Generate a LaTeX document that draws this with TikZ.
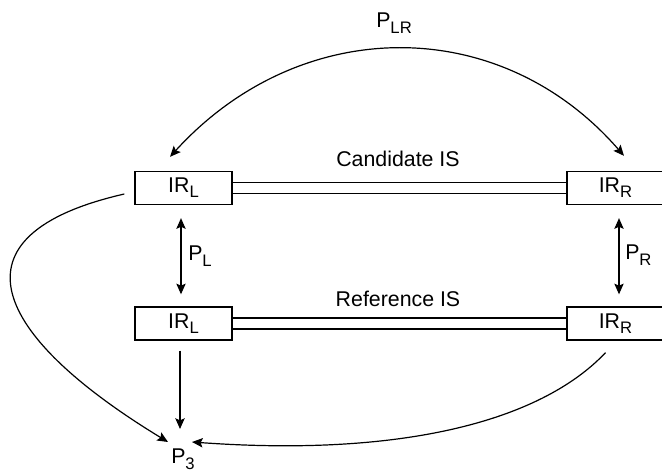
\documentclass[tikz,border=0pt]{standalone}
\usepackage{fontspec}
\setmainfont{Liberation Sans}
\usetikzlibrary{arrows.meta,calc}
% lowered, smaller subscript in text font
\newcommand\lowsub[1]{\raisebox{-0.45ex}{\fontsize{12.5}{13}\selectfont #1}}
\begin{document}
\begin{tikzpicture}[x=0.75pt,y=-0.75pt,
  font=\fontsize{16}{19}\selectfont,
  irbox/.style={draw,line width=1pt,minimum width=72.75pt,minimum height=24.75pt,inner sep=0pt},
  link/.style={line width=0.9pt},
  conn/.style={line width=0.9pt,-{Stealth[length=8pt,width=7pt,inset=1.5pt]}},
  biconn/.style={line width=0.9pt,{Stealth[length=8pt,width=7pt,inset=1.5pt]}-{Stealth[length=8pt,width=7pt,inset=1.5pt]}},
  lbl/.style={inner sep=0pt}]
\clip (0,0) rectangle (662,473);

% interface boxes
\node[irbox] (cl) at (183.5,188) {IR\lowsub{L}};
\node[irbox] (cr) at (615.5,188) {IR\lowsub{R}};
\node[irbox] (rl) at (183.5,323.5) {IR\lowsub{L}};
\node[irbox] (rr) at (615.5,323.5) {IR\lowsub{R}};

% double links between the boxes
\draw[link] ($(cl.east)+(0,-5.5)$) -- ($(cr.west)+(0,-5.5)$);
\draw[link] ($(cl.east)+(0,5.5)$) -- ($(cr.west)+(0,5.5)$);
\draw[link] ($(rl.east)+(0,-5.5)$) -- ($(rr.west)+(0,-5.5)$);
\draw[link] ($(rl.east)+(0,5.5)$) -- ($(rr.west)+(0,5.5)$);

% labels
\node[lbl,anchor=base] (cand) at (398,167) {Candidate IS};
\node[lbl,anchor=base] (refis) at (398,307) {Reference IS};
\node[lbl,anchor=base west] (plr) at (376,28) {P\lowsub{LR}};
\node[lbl,anchor=base west] (pl) at (188,261) {P\lowsub{L}};
\node[lbl,anchor=base west] (pr) at (625,260) {P\lowsub{R}};
\node[lbl,anchor=base west] (p3) at (171,464) {P\lowsub{3}};

% arrow end points around P3
\coordinate (p3left) at (168,442);
\coordinate (p3top) at (180,429);
\coordinate (p3right) at (192,442);

% connectors
\draw[biconn] ($(cl.north)+(-13.5,-14)$) .. controls (300,14) and (500,13) .. ($(cr.north)+(8.5,-15)$);
\draw[biconn] ($(cl.south)+(-2.5,13)$) -- ($(rl.north)+(-2.5,-12)$);
\draw[biconn] ($(cr.south)+(3.5,13)$) -- ($(rr.north)+(3.5,-12)$);
\draw[conn] ($(rl.south)+(-3.5,10)$) -- (p3top);
\draw[conn] ($(cl.west)+(-10,6)$) .. controls (-55,235) and (-8,335) .. (p3left);
\draw[conn] ($(rr.south)+(-10,12)$) .. controls (540,422) and (400,457) .. (p3right);
\end{tikzpicture}
\end{document}
